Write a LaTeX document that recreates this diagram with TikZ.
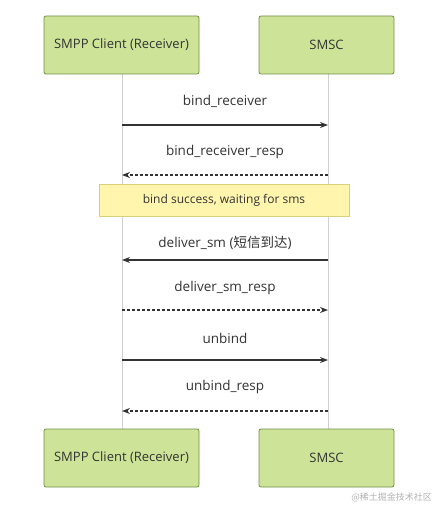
\documentclass[tikz,border=0pt]{standalone}
\usepackage{fontspec}
\setmainfont{Open Sans}
\newfontfamily\cjk{Noto Sans CJK SC}
\usetikzlibrary{arrows.meta}
\definecolor{actfill}{HTML}{CDE498}
\definecolor{actdraw}{HTML}{6E8F45}
\definecolor{notefill}{HTML}{FFF5AD}
\definecolor{notedraw}{HTML}{D6D27A}
\definecolor{txt}{HTML}{333333}
\definecolor{lifeline}{HTML}{D0D0D0}
\tikzset{
  actor/.style={draw=actdraw, fill=actfill, rounded corners=2pt, line width=0.8pt,
    minimum height=58pt, inner sep=0pt, font=\fontsize{13}{15}\selectfont, text=txt},
  msgtext/.style={font=\fontsize{13.5}{15}\selectfont, text=txt, inner sep=0pt},
  msg/.style={draw=txt, line width=1.2pt, -{Stealth[length=8pt,width=6pt]}},
  reply/.style={msg, dashed, dash pattern=on 3pt off 2pt},
  life/.style={draw=lifeline, line width=0.8pt},
  notebox/.style={draw=notedraw, fill=notefill, line width=0.8pt, minimum width=250pt,
    minimum height=32pt, inner sep=0pt, font=\fontsize{12}{14}\selectfont, text=txt}
}
\begin{document}
\begin{tikzpicture}[x=1pt,y=-1pt]
\useasboundingbox (0,0) rectangle (435,505);
% lifelines
\coordinate (lt) at (122,74);
\coordinate (lb) at (122,429);
\coordinate (rt) at (328,74);
\coordinate (rb) at (328,429);
\draw[life] (lt) -- (lb);
\draw[life] (rt) -- (rb);
% actors
\node[actor, minimum width=155pt] (c1) at (121.5,45) {SMPP Client (Receiver)};
\node[actor, minimum width=135pt] (s1) at (326.5,45) {SMSC};
\node[actor, minimum width=155pt] (c2) at (121.5,458) {SMPP Client (Receiver)};
\node[actor, minimum width=135pt] (s2) at (326.5,458) {SMSC};
% message endpoints
\foreach \n/\y in {1/125,2/175,3/260,4/310,5/360,6/411}{
  \coordinate (L\n) at (122,\y);
  \coordinate (R\n) at (328,\y);
}
\draw[msg] (L1) -- (R1);
\node[msgtext] (t1) at (225,101) {bind\_receiver};
\draw[reply] (R2) -- (L2);
\node[msgtext] (t2) at (225,152) {bind\_receiver\_resp};
\node[notebox] (note) at (224,200) {bind success, waiting for sms};
\draw[msg] (R3) -- (L3);
\node[msgtext] (t3) at (225,243) {deliver\_sm ({\cjk 短信到达})};
\draw[reply] (L4) -- (R4);
\node[msgtext] (t4) at (225,288) {deliver\_sm\_resp};
\draw[msg] (L5) -- (R5);
\node[msgtext] (t5) at (225,338) {unbind};
\draw[reply] (R6) -- (L6);
\node[msgtext] (t6) at (225,387) {unbind\_resp};
% watermark
\node[font=\fontsize{9}{10}\selectfont\cjk, text=black!30, anchor=east, inner sep=0pt] (wm) at (432,497) {@稀土掘金技术社区};
\end{tikzpicture}
\end{document}
